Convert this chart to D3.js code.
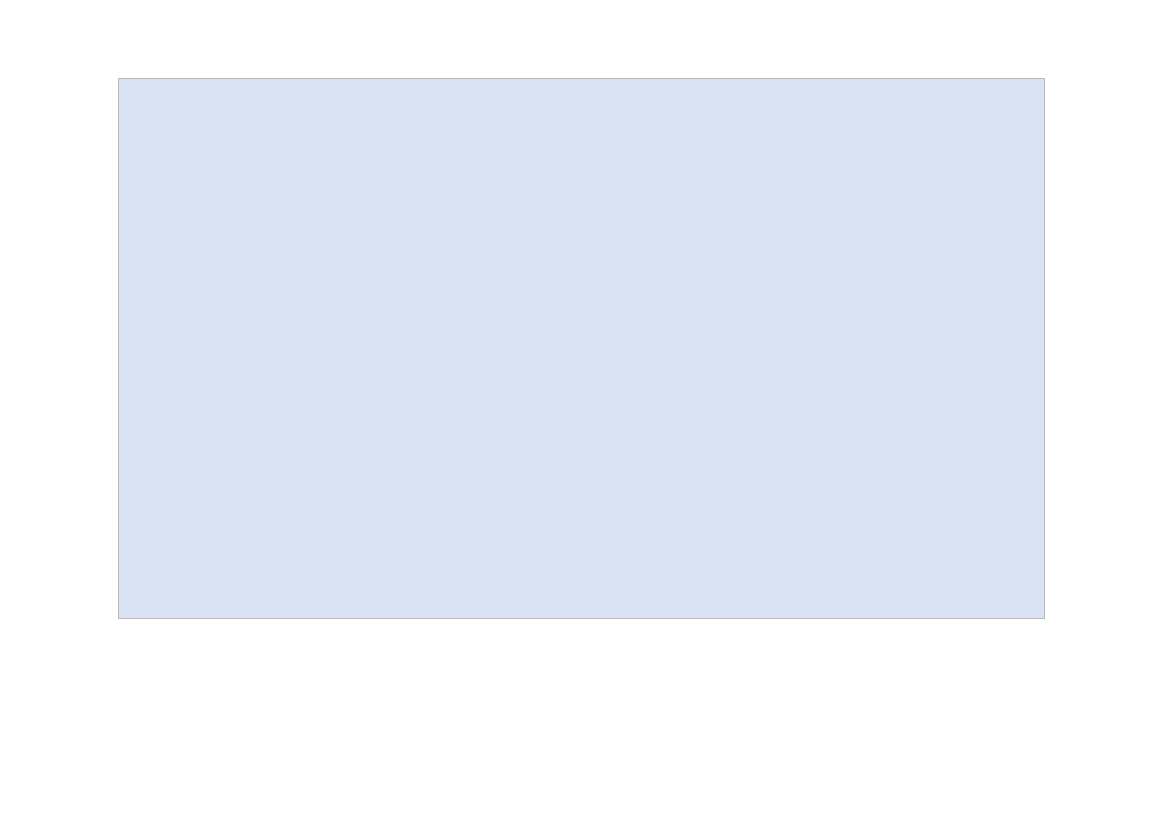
<!DOCTYPE html>
<html>
<head>
<meta charset="utf-8">
<script src="https://cdn.jsdelivr.net/npm/d3@7/dist/d3.min.js"></script>
<style>
  html, body { margin: 0; padding: 0; background: #ffffff; }
  svg { display: block; }
</style>
</head>
<body>
<script>
// The reference shows an empty plot area: no categories, series or tick labels.
const categories = [];
const seriesValues = [];
const tickLabels = [];

const width = 1169, height = 827;
const margin = { top: 78.5, right: 124.5, bottom: 208.5, left: 118.5 };

const svg = d3.select("body").append("svg")
  .attr("width", width)
  .attr("height", height);

const plotW = width - margin.left - margin.right;
const plotH = height - margin.top - margin.bottom;

const x = d3.scaleBand().domain(categories).range([0, plotW]);
const y = d3.scaleLinear().domain([0, d3.max(seriesValues) || 1]).range([plotH, 0]);

const g = svg.append("g").attr("transform", `translate(${margin.left},${margin.top})`);

g.append("rect")
  .attr("x", 0).attr("y", 0)
  .attr("width", plotW).attr("height", plotH)
  .attr("fill", "#dae3f3")
  .attr("stroke", "#b8b8b8")
  .attr("stroke-width", 1);

g.selectAll("rect.bar")
  .data(seriesValues)
  .join("rect")
  .attr("class", "bar")
  .attr("x", (d, i) => x(categories[i]))
  .attr("y", d => y(d))
  .attr("width", x.bandwidth())
  .attr("height", d => plotH - y(d))
  .attr("fill", "#4472c4");
</script>
</body>
</html>
